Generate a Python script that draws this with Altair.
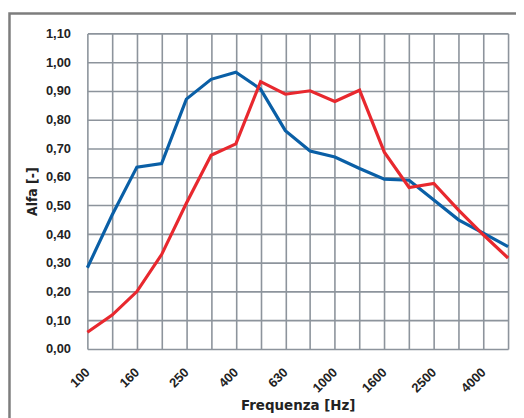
import altair as alt
import pandas as pd

freqs = ["100", "125", "160", "200", "250", "315", "400", "500", "630", "800",
         "1000", "1250", "1600", "2000", "2500", "3150", "4000", "5000"]
blue_vals = [0.283, 0.467, 0.634, 0.646, 0.871, 0.940, 0.965, 0.906, 0.761, 0.690,
             0.669, 0.629, 0.592, 0.588, 0.519, 0.450, 0.404, 0.357]
red_vals = [0.058, 0.118, 0.200, 0.329, 0.508, 0.675, 0.715, 0.932, 0.888, 0.900,
            0.863, 0.902, 0.686, 0.563, 0.577, 0.484, 0.398, 0.317]
label_freqs = ["100", "160", "250", "400", "630", "1000", "1600", "2500", "4000"]
y_ticks = [0.0, 0.1, 0.2, 0.3, 0.4, 0.5, 0.6, 0.7, 0.8, 0.9, 1.0, 1.1]
series_names = ["blu", "rosso"]
series_colors = ["#0a5fa6", "#e8282e"]

rows = []
for name, vals in zip(series_names, [blue_vals, red_vals]):
    for f, v in zip(freqs, vals):
        rows.append({"freq": f, "alfa": v, "serie": name})
df = pd.DataFrame(rows)

label_list = "[" + ",".join("'" + s + "'" for s in label_freqs) + "]"

FONT = "Liberation Sans"
NARROW = "Liberation Sans Narrow, DejaVu Sans Condensed, Liberation Sans"

lines = alt.Chart(df).mark_line(strokeWidth=3.2, strokeJoin="miter").encode(
    x=alt.X("freq:N", sort=freqs,
            scale=alt.Scale(type="point", padding=0),
            axis=alt.Axis(title="Frequenza [Hz]", values=freqs,
                          labelExpr="indexof(" + label_list + ", datum.label) >= 0 ? datum.label : ''",
                          labelAngle=-45, labelAlign="right", labelBaseline="middle",
                          labelPadding=21, titlePadding=3,
                          titleFont=NARROW, titleFontSize=15, titleFontWeight="bold")),
    y=alt.Y("alfa:Q", scale=alt.Scale(domain=[0, 1.1], nice=False, zero=True),
            axis=alt.Axis(title="Alfa [-]", values=y_ticks,
                          labelExpr="replace(format(datum.value, '.2f'), '.', ',')",
                          labelPadding=17, titlePadding=6,
                          titleFont=NARROW, titleFontSize=14, titleFontWeight="bold")),
    color=alt.Color("serie:N", scale=alt.Scale(domain=series_names, range=series_colors),
                    legend=None),
)

frame = alt.Chart(alt.Data(values=[{}])).mark_rect(
    fill=None, filled=False, stroke="#7d7d7d", strokeWidth=2.5
).encode(
    x=alt.value(-78.5), x2=alt.value(560), y=alt.value(-20), y2=alt.value(420)
)

chart = alt.layer(frame, lines).properties(
    width=424, height=318,
    autosize=alt.AutoSizeParams(type="none"),
    padding={"left": 80, "top": 24, "right": 8, "bottom": 70},
).configure_axis(
    grid=True, gridColor="#8d949c", gridWidth=1.6, gridOpacity=1,
    domain=False, ticks=False,
    labelFont=FONT, labelFontSize=13, labelFontWeight="bold", labelColor="#222222",
    titleColor="#222222",
).configure_view(stroke=None)

chart.save("out.html", embed_options={"renderer": "svg", "actions": False})
